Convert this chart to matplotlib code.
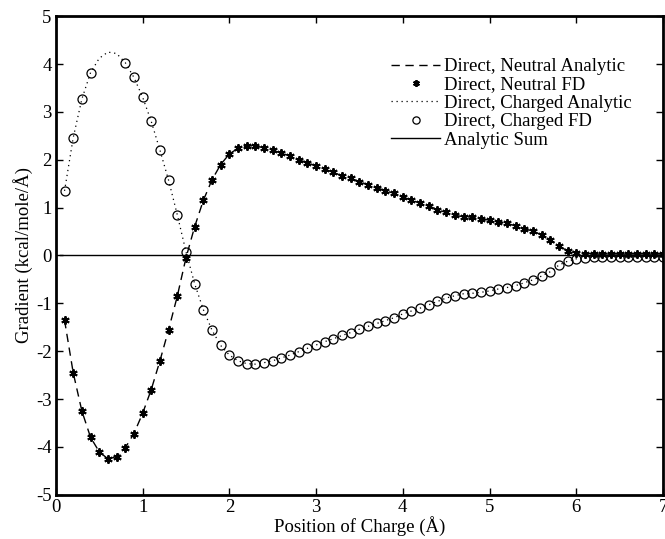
import numpy as np
import matplotlib
matplotlib.use("Agg")
import matplotlib.pyplot as plt

plt.rcParams['font.family'] = ['Liberation Serif', 'DejaVu Serif']
plt.rcParams['axes.unicode_minus'] = False

# Position of charge (Angstrom)
x = [round(0.1 * i, 1) for i in range(1, 71)]

neutral_fd = [-1.35, -2.45, -3.25, -3.80, -4.10, -4.25, -4.20, -4.02, -3.72, -3.30,
              -2.80, -2.20, -1.55, -0.85, -0.05, 0.60, 1.15, 1.58, 1.90, 2.12,
              2.24, 2.29, 2.29, 2.25, 2.20, 2.14, 2.08, 2.00, 1.94, 1.87,
              1.80, 1.74, 1.66, 1.61, 1.54, 1.48, 1.42, 1.35, 1.30, 1.22,
              1.16, 1.09, 1.04, 0.95, 0.90, 0.84, 0.81, 0.80, 0.76, 0.74,
              0.70, 0.67, 0.62, 0.56, 0.51, 0.43, 0.33, 0.19, 0.10, 0.05,
              0.04, 0.04, 0.04, 0.04, 0.04, 0.04, 0.04, 0.04, 0.04, 0.04]

neutral_analytic = [-1.35, -2.45, -3.25, -3.80, -4.10, -4.25, -4.20, -4.02, -3.72, -3.30,
                    -2.80, -2.20, -1.55, -0.85, -0.05, 0.60, 1.15, 1.58, 1.90, 2.12,
                    2.24, 2.29, 2.29, 2.25, 2.20, 2.14, 2.08, 2.00, 1.94, 1.87,
                    1.80, 1.74, 1.66, 1.61, 1.54, 1.48, 1.42, 1.35, 1.30, 1.22,
                    1.16, 1.09, 1.04, 0.95, 0.90, 0.84, 0.81, 0.80, 0.76, 0.74,
                    0.70, 0.67, 0.62, 0.56, 0.51, 0.43, 0.33, 0.19, 0.10, 0.05,
                    0.04, 0.04, 0.04, 0.04, 0.04, 0.04, 0.04, 0.04, 0.04, 0.04]

charged_fd = [1.35, 2.46, 3.27, 3.82, np.nan, np.nan, np.nan, 4.03, 3.72, 3.31,
              2.80, 2.20, 1.57, 0.85, 0.08, -0.59, -1.13, -1.56, -1.88, -2.08,
              -2.20, -2.26, -2.27, -2.24, -2.20, -2.14, -2.08, -2.01, -1.94, -1.87,
              -1.80, -1.74, -1.67, -1.61, -1.54, -1.48, -1.42, -1.36, -1.30, -1.22,
              -1.16, -1.10, -1.03, -0.96, -0.89, -0.84, -0.80, -0.79, -0.77, -0.74,
              -0.70, -0.67, -0.63, -0.57, -0.51, -0.43, -0.34, -0.20, -0.12, -0.07,
              -0.05, -0.04, -0.04, -0.04, -0.04, -0.04, -0.04, -0.04, -0.04, -0.04]

charged_analytic = [1.35, 2.46, 3.27, 3.82, 4.12, 4.25, 4.22, 4.03, 3.72, 3.31,
                    2.80, 2.20, 1.57, 0.85, 0.08, -0.59, -1.13, -1.56, -1.88, -2.08,
                    -2.20, -2.26, -2.27, -2.24, -2.20, -2.14, -2.08, -2.01, -1.94, -1.87,
                    -1.80, -1.74, -1.67, -1.61, -1.54, -1.48, -1.42, -1.36, -1.30, -1.22,
                    -1.16, -1.10, -1.03, -0.96, -0.89, -0.84, -0.80, -0.79, -0.77, -0.74,
                    -0.70, -0.67, -0.63, -0.57, -0.51, -0.43, -0.34, -0.20, -0.12, -0.07,
                    -0.05, -0.04, -0.04, -0.04, -0.04, -0.04, -0.04, -0.04, -0.04, -0.04]

sum_x = [0.05, 7.0]
analytic_sum = [0.0, 0.0]

xticks = [0, 1, 2, 3, 4, 5, 6, 7]
yticks = [-5, -4, -3, -2, -1, 0, 1, 2, 3, 4, 5]

FS = 13.5

fig = plt.figure(figsize=(6.65, 5.39), dpi=100)
ax = fig.add_axes([0.084, 0.082, 0.913, 0.888])

ax.plot(x, neutral_analytic, linestyle=(0, (6, 4)), color='black', lw=1.0,
        label='Direct, Neutral Analytic')
ax.plot(x, neutral_fd, linestyle='none', marker=(6, 2, 0), markersize=6,
        markeredgewidth=1.4, color='black', label='Direct, Neutral FD')
ax.plot(x, charged_analytic, linestyle=(0, (1, 3)), color='black', lw=0.9,
        label='Direct, Charged Analytic')
ax.plot(x, charged_fd, linestyle='none', marker='o', markersize=6.5,
        markerfacecolor='none', markeredgecolor='black', markeredgewidth=0.9,
        label='Direct, Charged FD')
ax.plot(sum_x, analytic_sum, linestyle='-', color='black', lw=1.0,
        label='Analytic Sum')

ax.set_xlim(0, 7)
ax.set_ylim(-5, 5)
ax.set_xticks(xticks)
ax.set_yticks(yticks)
ax.tick_params(direction='in', length=5, width=1, top=True, right=True,
               labelsize=FS, pad=3)
for s in ax.spines.values():
    s.set_linewidth(2)

ax.set_xlabel('Position of Charge (Å)', fontsize=FS, labelpad=0)
ax.set_ylabel('Gradient (kcal/mole/Å)', fontsize=FS, labelpad=2)

leg = ax.legend(loc='upper right', frameon=False, fontsize=FS,
                handlelength=2.6, handletextpad=0.2, labelspacing=0.07,
                borderaxespad=0.3, bbox_to_anchor=(0.97, 0.94), markerscale=0.8)

fig.savefig('out.png', dpi=100)
